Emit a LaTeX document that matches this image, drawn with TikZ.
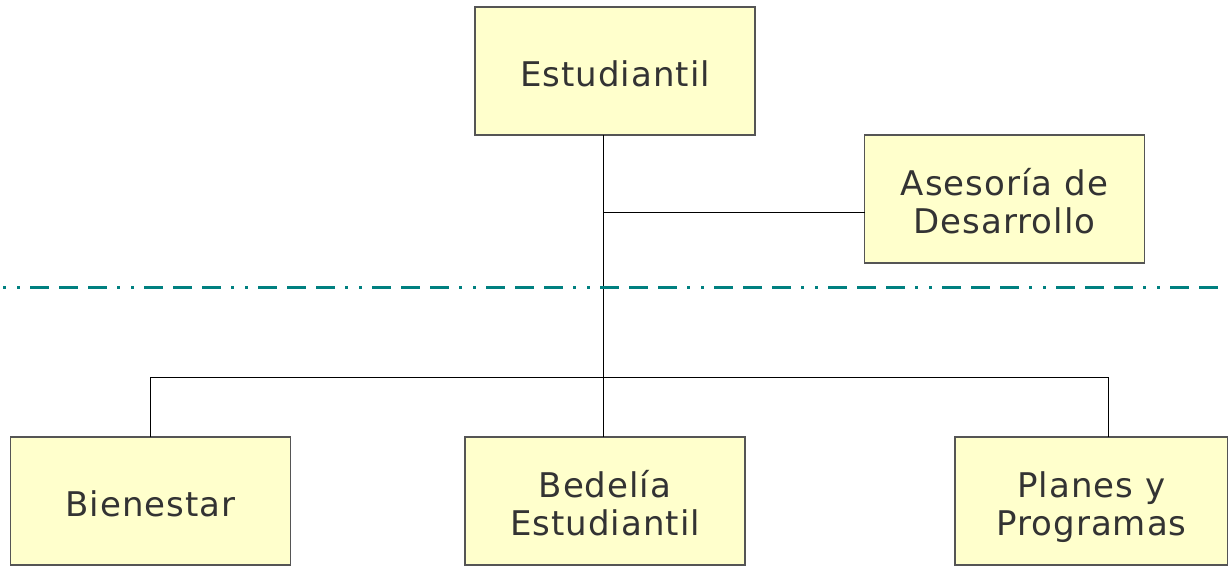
\documentclass[tikz,border=0pt]{standalone}
\usepackage{fontspec}
\setmainfont[LetterSpace=3]{DejaVu Sans}
\definecolor{boxfill}{HTML}{FFFFCC}
\definecolor{boxdraw}{HTML}{555555}
\definecolor{txt}{HTML}{333333}
\definecolor{teal}{HTML}{008080}
\begin{document}
\begin{tikzpicture}[x=1pt,y=-1pt,
  unit/.style={draw=boxdraw,line width=1.2pt,fill=boxfill,minimum width=280pt,minimum height=128pt,
    inner sep=0pt,outer sep=0pt,text=txt,align=center,font=\fontsize{34}{38}\selectfont,
    text height=39pt,text depth=8pt},
  twoline/.style={text height=77pt},
  link/.style={draw=black,line width=1pt}]
\useasboundingbox (0,0) rectangle (1228,567);
\node[unit] (est) at (615,71) {Estudiantil};
\node[unit,twoline] (ase) at (1004.5,199) {Asesoría de\\Desarrollo};
\node[unit] (bie) at (150.5,501) {Bienestar};
\node[unit,twoline] (bed) at (605,501) {Bedelía\\Estudiantil};
\node[unit,twoline,minimum width=273pt] (pla) at (1091.5,501) {Planes y\\Programas};
\coordinate (j1) at (603,212);
\coordinate (j2) at (603,377);
\coordinate (l) at (150,377);
\coordinate (r) at (1108,377);
\draw[link] (est.south -| j1) -- (bed.north -| j1);
\draw[link] (j1) -- (ase.west |- j1);
\draw[link] (bie.north -| l) -- (l) -- (r) -- (pla.north -| r);
\coordinate (d0) at (3,287);
\coordinate (d1) at (1228,287);
\draw[teal,line width=3pt,dash pattern=on 3pt off 11pt on 3pt off 10pt on 19pt off 10pt on 19pt off 10pt on 19pt off 10pt] (d0) -- (d1);
\end{tikzpicture}
\end{document}
